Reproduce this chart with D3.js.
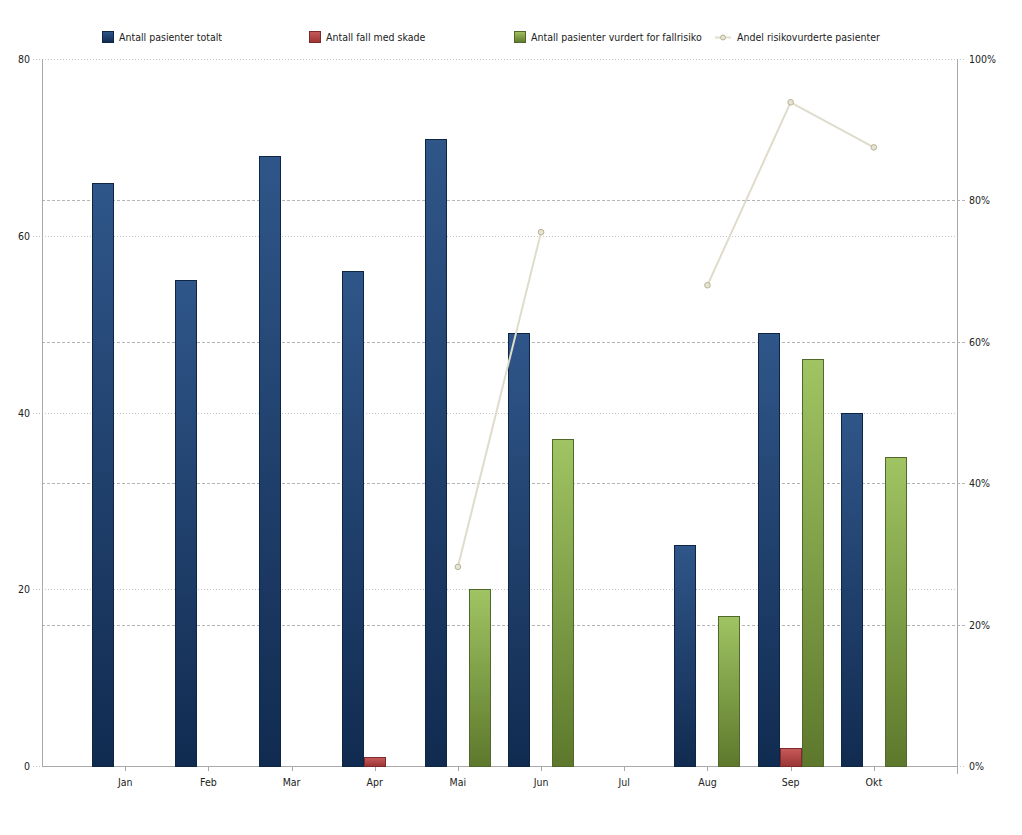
<!DOCTYPE html>
<html><head><meta charset="utf-8">
<script src="https://cdn.jsdelivr.net/npm/d3@7"></script>
<style>body{margin:0;background:#fff}svg{display:block}text{font-family:"DejaVu Sans Condensed","DejaVu Sans",Verdana,sans-serif;font-stretch:condensed;font-size:10.5px;fill:#222}</style>
</head><body><svg id="c" width="1022" height="835"></svg>
<script>
const months = ["Jan","Feb","Mar","Apr","Mai","Jun","Jul","Aug","Sep","Okt"];
const totalt = [66,55,69,56,71,49,null,25,49,40];
const skade = [null,null,null,1,null,null,null,null,2,null];
const vurdert = [null,null,null,null,20,37,null,17,46,35];
const andel = [null,null,null,null,0.2817,0.7551,null,0.68,0.9388,0.875];
const leftTicks = [0,20,40,60,80];
const rightTicks = [0,0.2,0.4,0.6,0.8,1];
const seriesNames = ["Antall pasienter totalt","Antall fall med skade","Antall pasienter vurdert for fallrisiko","Andel risikovurderte pasienter"];

const svg = d3.select("#c");
const L=42,R=957,T=59,B=766;
const x = d3.scaleLinear().domain([0,months.length+1]).range([L,R]);
const y = d3.scaleLinear().domain([0,80]).range([B,T]);
const y2 = d3.scaleLinear().domain([0,1]).range([B,T]);
const bw = 22;

const defs = svg.append("defs");
function grad(id,c1,c2){const g=defs.append("linearGradient").attr("id",id).attr("x1",0).attr("x2",0).attr("y1",0).attr("y2",1);
 g.append("stop").attr("offset","0%").attr("stop-color",c1);g.append("stop").attr("offset","100%").attr("stop-color",c2);}
grad("gb","#2f5689","#112b50");
grad("gr","#c75a5a","#9b3434");
grad("gg","#a0c463","#5d782c");

// grids
svg.append("g").selectAll("line").data(leftTicks).join("line")
 .attr("x1",33).attr("x2",R).attr("y1",d=>Math.round(y(d))+0.5).attr("y2",d=>Math.round(y(d))+0.5)
 .attr("stroke","#c4c4c4").attr("stroke-dasharray","1,2");
svg.append("g").selectAll("line").data(rightTicks.slice(1,5)).join("line")
 .attr("x1",L).attr("x2",966).attr("y1",d=>Math.round(y2(d))+0.5).attr("y2",d=>Math.round(y2(d))+0.5)
 .attr("stroke","#b4b4b4").attr("stroke-dasharray","3,2");
svg.append("line").attr("x1",R).attr("x2",966).attr("y1",T+0.5).attr("y2",T+0.5).attr("stroke","#c4c4c4").attr("stroke-dasharray","1,2");
svg.append("line").attr("x1",R).attr("x2",966).attr("y1",B+0.5).attr("y2",B+0.5).attr("stroke","#c4c4c4").attr("stroke-dasharray","1,2");

// axes lines
svg.append("line").attr("x1",L+0.5).attr("x2",L+0.5).attr("y1",T).attr("y2",B).attr("stroke","#a8a8a8");
svg.append("line").attr("x1",R+0.5).attr("x2",R+0.5).attr("y1",T).attr("y2",B).attr("stroke","#a8a8a8");
svg.append("line").attr("x1",L).attr("x2",R).attr("y1",B+0.5).attr("y2",B+0.5).attr("stroke","#a8a8a8");

// left labels
svg.append("g").selectAll("text").data(leftTicks).join("text")
 .attr("x",30).attr("y",d=>y(d)+4).attr("text-anchor","end").text(d=>d);
svg.append("g").selectAll("text").data(rightTicks).join("text")
 .attr("x",969).attr("y",d=>y2(d)+4).text(d=>Math.round(d*100)+"%");

// bottom ticks
const xt = months.map((m,i)=>({m,i}));
svg.append("g").selectAll("line").data(xt).join("line")
 .attr("x1",d=>Math.round(x(d.i+1))+0.5).attr("x2",d=>Math.round(x(d.i+1))+0.5).attr("y1",B).attr("y2",B+5).attr("stroke","#a8a8a8");
svg.append("line").attr("x1",R+0.5).attr("x2",R+0.5).attr("y1",B).attr("y2",B+8).attr("stroke","#a8a8a8");
svg.append("g").selectAll("text").data(xt).join("text")
 .attr("x",d=>x(d.i+1)).attr("y",786).attr("text-anchor","middle").text(d=>d.m);

// bars
function bars(data,off,fill,stroke){
 svg.append("g").selectAll("rect").data(data.map((v,i)=>({v,i})).filter(d=>d.v!=null)).join("rect")
  .attr("x",d=>Math.round(x(d.i+1))+off+0.5).attr("width",bw-1)
  .attr("y",d=>Math.round(y(d.v))+0.5).attr("height",d=>B-Math.round(y(d.v)))
  .attr("fill",fill).attr("stroke",stroke).attr("stroke-width",1);
}
bars(totalt,-33,"url(#gb)","#0f2545");
bars(skade,-11,"url(#gr)","#7e2a2a");
bars(vurdert,11,"url(#gg)","#50692a");

// line
const pts = andel.map((v,i)=>({v,i}));
svg.append("path").datum(pts)
 .attr("d",d3.line().defined(d=>d.v!=null).x(d=>x(d.i+1)).y(d=>y2(d.v)))
 .attr("fill","none").attr("stroke","#e0dccb").attr("stroke-width",2);
svg.append("g").selectAll("circle").data(pts.filter(d=>d.v!=null)).join("circle")
 .attr("cx",d=>x(d.i+1)).attr("cy",d=>y2(d.v)).attr("r",2.8)
 .attr("fill","#e6e4d6").attr("stroke","#b8b290").attr("stroke-width",1);

// legend
const lg = [{x:102,t:0,f:"url(#gb)",s:"#0f2545"},{x:309,t:1,f:"url(#gr)",s:"#7e2a2a"},{x:514,t:2,f:"url(#gg)",s:"#50692a"}];
lg.forEach(d=>{
 svg.append("rect").attr("x",d.x+0.5).attr("y",31.5).attr("width",11).attr("height",11).attr("fill",d.f).attr("stroke",d.s);
 svg.append("text").attr("x",d.x+17).attr("y",41).text(seriesNames[d.t]);
});
svg.append("line").attr("x1",715).attr("x2",731).attr("y1",37.5).attr("y2",37.5).attr("stroke","#e0dccb").attr("stroke-width",2);
svg.append("circle").attr("cx",723).attr("cy",37.5).attr("r",2.5).attr("fill","#e6e4d6").attr("stroke","#b8b290");
svg.append("text").attr("x",737).attr("y",41).text(seriesNames[3]);
</script></body></html>
